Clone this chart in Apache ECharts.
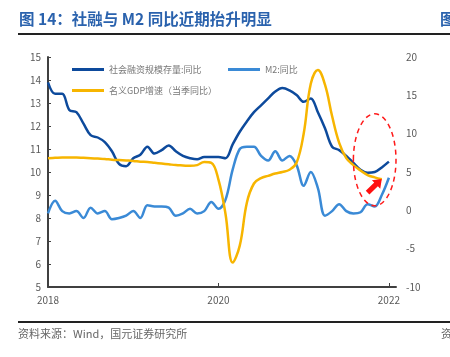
<!DOCTYPE html>
<html>
<head>
<meta charset="utf-8">
<script src="https://cdn.jsdelivr.net/npm/echarts@6/dist/echarts.min.js"></script>
<style>
html,body{margin:0;padding:0;background:#fff;}
#c{width:450px;height:357px;}
</style>
</head>
<body>
<div id="c"></div>
<script>
// x categories: monthly 2018-01 ... 2022-02
var months = [];
for (var y = 2018; y <= 2022; y++) {
  for (var m = 1; m <= 12; m++) {
    if (y === 2022 && m > 2) break;
    months.push(y + '-' + (m < 10 ? '0' + m : m));
  }
}
var xTickLabels = {'2018-01': '2018', '2020-01': '2020', '2022-01': '2022'};
var leftTicks = {min: 5, max: 15, interval: 1};
var rightTicks = {min: -10, max: 20, interval: 5};

// 社会融资规模存量:同比 (left axis, %)
var sfYoY = [13.9, 13.4, 13.4, 12.7, 12.6, 12.1, 11.6, 11.5, 11.3, 10.9, 10.35, 10.25,
             10.6, 10.75, 11.1, 10.8, 10.95, 11.15, 10.9, 10.7, 10.6, 10.55, 10.65, 10.65,
             10.65, 10.6, 11.2, 11.75, 12.2, 12.6, 12.9, 13.2, 13.5, 13.65, 13.55, 13.35,
             13.05, 13.2, 12.6, 11.9, 11.1, 10.95, 10.7, 10.4, 10.1, 9.97, 10.0, 10.2,
             10.45];
// M2:同比 (left axis, %)
var m2YoY = [8.2, 8.75, 8.3, 8.2, 8.3, 8.0, 8.45, 8.2, 8.3, 7.95, 8.0, 8.1,
             8.3, 8.0, 8.55, 8.5, 8.5, 8.45, 8.1, 8.2, 8.4, 8.2, 8.3, 8.7,
             8.4, 8.8, 10.1, 11.0, 11.1, 11.1, 10.7, 10.5, 10.9, 10.5, 10.7, 10.3,
             9.4, 10.0, 9.3, 8.1, 8.3, 8.6, 8.3, 8.2, 8.25, 8.6, 8.5, 9.0,
             9.75];
// 名义GDP增速（当季同比）(right axis, %)
var gdpYoY = [6.8, 6.85, 6.9, 6.9, 6.9, 6.85, 6.8, 6.75, 6.7, 6.6, 6.55, 6.5,
              6.45, 6.35, 6.3, 6.2, 6.1, 6.0, 5.9, 5.85, 5.8, 5.9, 6.3, 6.2,
              4.0, -0.5, -6.8, -4.6, 1.0, 3.5, 4.2, 4.5, 4.8, 5.0, 5.3, 6.2,
              10.0, 16.5, 18.3, 16.4, 12.3, 8.8, 6.8, 5.9, 5.2, 4.6, 4.3, 4.05];

var names = ['社会融资规模存量:同比', 'M2:同比', '名义GDP增速（当季同比）'];
var colors = ['#0d4a9c', '#3a8ad6', '#f7b500'];
var labelColor = '#595959';
var font = '"Noto Sans CJK SC", "Noto Sans", sans-serif';

var chart = echarts.init(document.getElementById('c'), null, {renderer: 'canvas'});

function legendItem(i, left, top) {
  return {
    data: [names[i]], left: left, top: top, orient: 'horizontal',
    icon: 'rect', itemWidth: 32, itemHeight: 3, itemGap: 4,
    textStyle: {color: '#777', fontSize: 9, fontFamily: font, padding: [0, 0, 0, 0]},
    selectedMode: false, padding: 0
  };
}

var option = {
  animation: false,
  backgroundColor: '#fff',
  color: colors,
  legend: [legendItem(0, 72, 65), legendItem(1, 228, 65), legendItem(2, 72, 86)],
  grid: {left: 48, right: 54, top: 57, bottom: 70, containLabel: false},
  xAxis: {
    type: 'category', data: months, boundaryGap: false,
    axisLine: {onZero: false, lineStyle: {color: '#404040', width: 2}},
    axisTick: {inside: true, length: 4, lineStyle: {color: '#404040'},
               interval: function (idx, v) { return v === '2020-01' || v === '2022-01'; }},
    axisLabel: {color: labelColor, fontSize: 10, fontFamily: font, margin: 8,
                interval: function (idx, v) { return !!xTickLabels[v]; },
                formatter: function (v) { return xTickLabels[v] || ''; }},
    splitLine: {show: false}
  },
  yAxis: [{
    type: 'value', min: leftTicks.min, max: leftTicks.max, interval: leftTicks.interval,
    axisLine: {show: true, lineStyle: {color: '#404040', width: 2}},
    axisTick: {show: true, inside: true, length: 3, lineStyle: {color: '#404040'}},
    axisLabel: {color: labelColor, fontSize: 10, fontFamily: font, margin: 7},
    splitLine: {show: false}
  }, {
    type: 'value', min: rightTicks.min, max: rightTicks.max, interval: rightTicks.interval,
    axisLine: {show: false}, axisTick: {show: false},
    axisLabel: {color: labelColor, fontSize: 10, fontFamily: font, margin: 10},
    splitLine: {show: false}
  }],
  series: [
    {name: names[0], type: 'line', data: sfYoY, yAxisIndex: 0, smooth: 0.35, symbol: 'none',
     lineStyle: {width: 2.5, color: colors[0]}, z: 3},
    {name: names[1], type: 'line', data: m2YoY, yAxisIndex: 0, smooth: 0.35, symbol: 'none',
     lineStyle: {width: 2.5, color: colors[1]}, z: 2},
    {name: names[2], type: 'line', data: gdpYoY, yAxisIndex: 1, smooth: 0.4, symbol: 'none',
     lineStyle: {width: 2.5, color: colors[2]}, z: 4}
  ],
  graphic: [
    {type: 'text', left: 19, top: 11, style: {text: '图 14：社融与 M2 同比近期抬升明显',
      fill: '#2a62ad', font: 'bold 15.5px ' + font}},
    {type: 'text', left: 440, top: 11, style: {text: '图', fill: '#2a62ad', font: 'bold 15.5px ' + font}},
    {type: 'rect', shape: {x: 18, y: 33, width: 432, height: 2}, style: {fill: '#222'}},
    {type: 'rect', shape: {x: 18, y: 321, width: 432, height: 2}, style: {fill: '#222'}},
    {type: 'text', left: 18, top: 328, style: {text: '资料来源：Wind，国元证券研究所',
      fill: '#666', font: '11px ' + font}},
    {type: 'text', left: 441, top: 328, style: {text: '资', fill: '#666', font: '11px ' + font}}
  ]
};
chart.setOption(option);

// annotation: dashed ellipse and arrow placed through the chart's own coordinate system
function px(xi, v) { return chart.convertToPixel({xAxisIndex: 0, yAxisIndex: 0}, [xi, v]); }
var c = px(45.55, 10.53);
var cx0 = px(43.3, 10.53), cy0 = px(45.55, 12.53);
var rx = c[0] - cx0[0], ry = c[1] - cy0[1];
var a0 = px(45.0, 9.1), a1 = px(47.4, 9.7);
var dx = a1[0] - a0[0], dy = a1[1] - a0[1], L = Math.sqrt(dx * dx + dy * dy);
var ux = dx / L, uy = dy / L, nx = -uy, ny = ux;
var hw = 2.6, headL = 8, headW = 6;
var bx = a1[0] - ux * headL, by = a1[1] - uy * headL;
var arrowPts = [
  [a0[0] + nx * hw, a0[1] + ny * hw], [bx + nx * hw, by + ny * hw], [bx + nx * headW, by + ny * headW],
  [a1[0], a1[1]], [bx - nx * headW, by - ny * headW], [bx - nx * hw, by - ny * hw], [a0[0] - nx * hw, a0[1] - ny * hw]
];
chart.setOption({graphic: option.graphic.concat([
  {type: 'ellipse', shape: {cx: c[0], cy: c[1], rx: rx, ry: ry}, z: 10,
   style: {fill: 'none', stroke: '#ff1a1a', lineWidth: 1.5, lineDash: [5, 4]}},
  {type: 'polygon', shape: {points: arrowPts}, z: 10, style: {fill: '#ff1010'}}
])});
</script>
</body>
</html>
